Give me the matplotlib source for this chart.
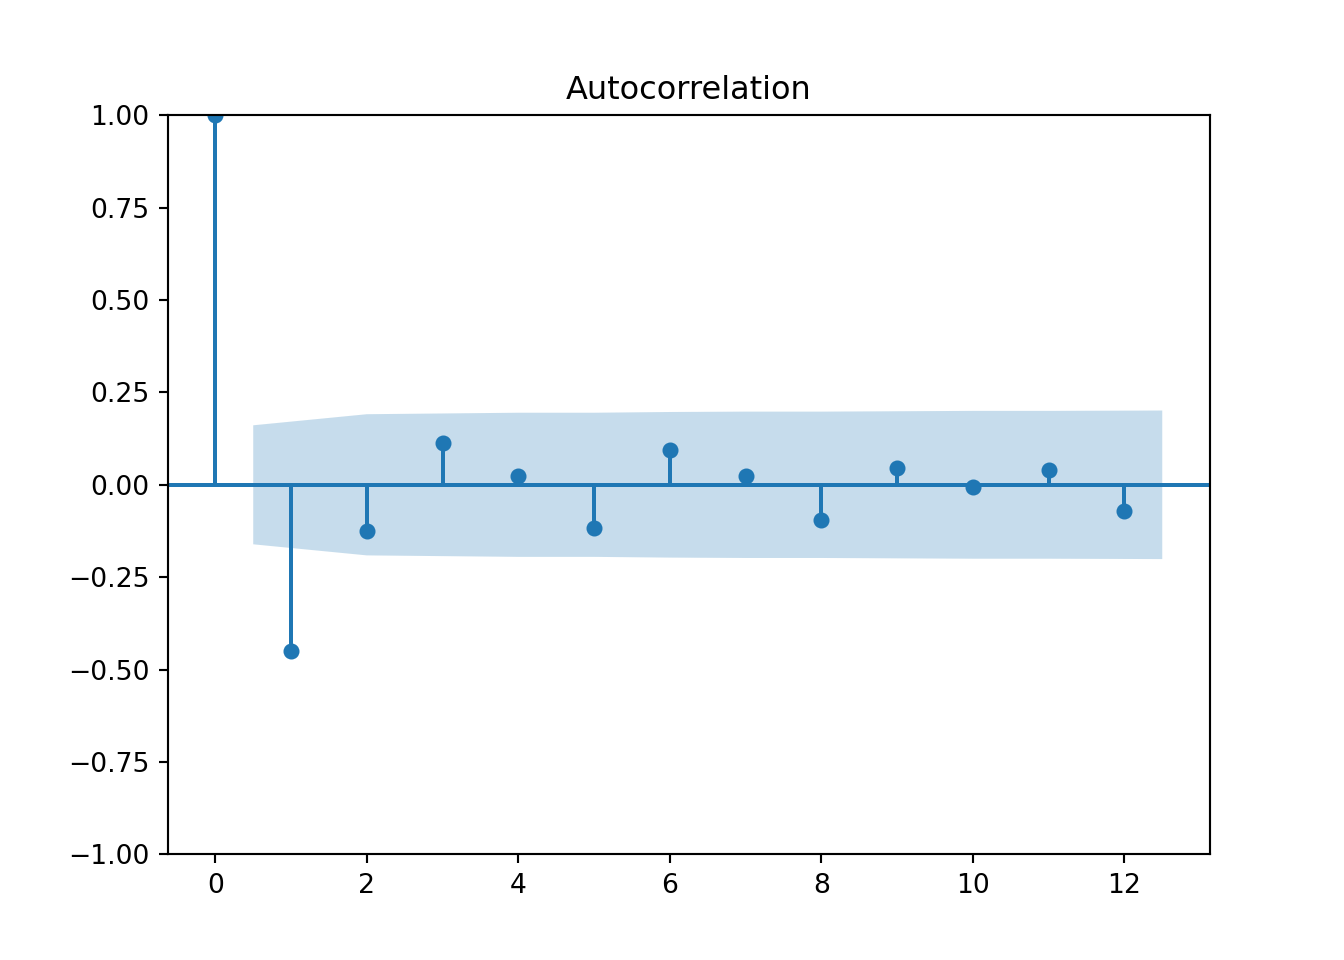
import matplotlib
matplotlib.use('Agg')
import matplotlib.pyplot as plt
import numpy as np


# ACF values
lags = [0, 1, 2, 3, 4, 5, 6, 7, 8, 9, 10, 11, 12]
acf = [1.0, -0.451, -0.126, 0.112, 0.023, -0.118, 0.093, 0.023, -0.096, 0.045, -0.007, 0.039, -0.072]

# confidence band half-width for lags 1..12
band = [0.161, 0.191, 0.193, 0.195, 0.195, 0.197, 0.198, 0.198, 0.199, 0.200, 0.200, 0.201]


fig, ax = plt.subplots(figsize=(7, 5), dpi=192)

ax.margins(0.05)
ax.plot(lags, acf, marker='o', markersize=5, linestyle='None', color='C0')
ax.vlines(lags, [0], acf, color='C0')
ax.axhline(0, color='C0')

band_x = np.array(lags[1:], dtype=float)
band_x[0] -= 0.5
band_x[-1] += 0.5
band = np.array(band)
ax.fill_between(band_x, -band, band, alpha=0.25, linewidth=0)

ax.set_ylim(-1, 1)
ax.set_title('Autocorrelation')

fig.savefig('out.png', dpi=192)
